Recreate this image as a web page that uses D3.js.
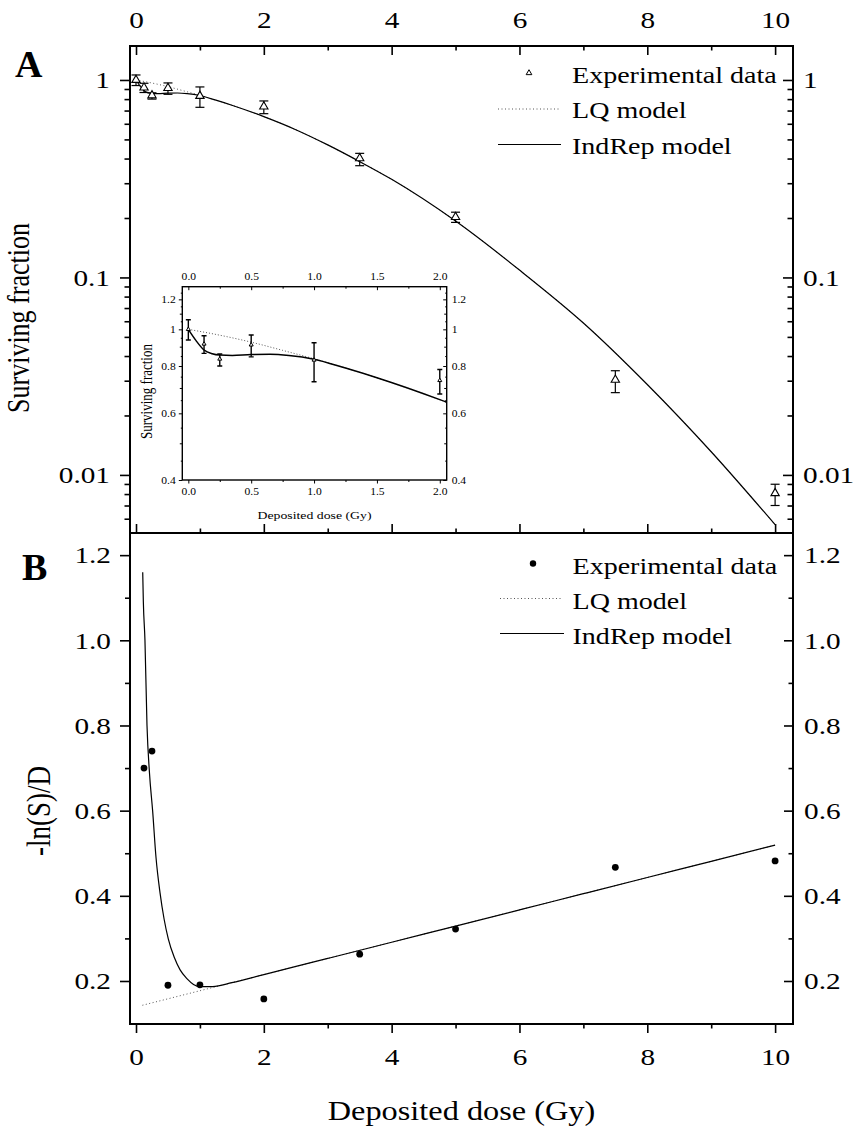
<!DOCTYPE html>
<html>
<head>
<meta charset="utf-8">
<script src="https://cdn.jsdelivr.net/npm/d3@7"></script>
<style type="text/css">
body { margin: 0; background: #fff; }
svg text { font-family: "Liberation Serif", "Times New Roman", serif; fill: #000; }
.frame { fill: none; stroke: #000; stroke-width: 2; }
.axis path { display: none; }
.axis line { stroke: #000; stroke-width: 1.6; }
.inset .axis line { stroke-width: 1; }
.solid { fill: none; stroke: #000; stroke-width: 1.2; }
.dotted { fill: none; stroke: #555; stroke-width: 1; stroke-dasharray: 1,2.5; }
.err { stroke: #000; stroke-width: 1.2; }
</style>
</head>
<body>
<div id="chart"></div>
<script>

// ---- data ----
// panel A: surviving fraction vs deposited dose (Gy)
var doses  = [0, 0.125, 0.25, 0.5, 1, 2, 3.5, 5, 7.5, 10];
var sf     = [1.0, 0.915, 0.835, 0.91, 0.83, 0.733, 0.401, 0.202, 0.0303, 0.00808];
var sfLow  = [0.937, 0.864, 0.80, 0.846, 0.727, 0.675, 0.368, 0.19, 0.0261, 0.0070];
var sfHigh = [1.06, 0.962, 0.861, 0.966, 0.922, 0.783, 0.425, 0.214, 0.0337, 0.00897];

var lqDoseA = [0, 0.25, 0.5, 0.75, 1, 1.5, 2, 2.5, 3, 3.5, 4, 5, 6, 7, 8, 9, 10];
var lqSurvA = [1, 0.965, 0.925, 0.88, 0.836, 0.745, 0.652, 0.56, 0.469, 0.386, 0.314, 0.193, 0.109, 0.0588, 0.0287, 0.0131, 0.0056];

var irDoseA = [0, 0.06, 0.125, 0.19, 0.25, 0.35, 0.5, 0.65, 0.8, 1, 1.25, 1.5, 2, 2.5, 3, 3.5, 4, 5, 6, 7, 8, 9, 10];
var irSurvA = [1, 0.935, 0.882, 0.862, 0.855, 0.853, 0.858, 0.859, 0.853, 0.834, 0.79, 0.745, 0.652, 0.56, 0.469, 0.386, 0.314, 0.193, 0.109, 0.0588, 0.0287, 0.0131, 0.0056];

// panel B: -ln(S)/D
var bDoses = [0.125, 0.25, 0.5, 1, 2, 3.5, 5, 7.5, 10];
var bVals  = [0.70, 0.74, 0.19, 0.191, 0.158, 0.263, 0.322, 0.467, 0.482];

var lqDoseB = [0.1, 2, 4, 6, 8, 10];
var lqValB  = [0.143, 0.215, 0.291, 0.367, 0.443, 0.519];

var irDoseB = [0.105, 0.115, 0.14, 0.172, 0.21, 0.26, 0.313, 0.376, 0.44, 0.505, 0.6, 0.69, 0.8, 0.9, 1.0, 1.2, 1.5, 2, 3, 4, 5, 6, 7, 8, 9, 10];
var irValB  = [1.16, 1.09, 1.0, 0.8, 0.69, 0.6, 0.49, 0.407, 0.345, 0.299, 0.255, 0.226, 0.205, 0.192, 0.187, 0.187, 0.196, 0.215, 0.253, 0.291, 0.329, 0.367, 0.405, 0.443, 0.481, 0.519];

var legendLabels = ["Experimental data", "LQ model", "IndRep model"];

// ---- layout ----
var W = 859, H = 1128;
var SX = 1.22; // the original lettering is a bit wide
var L = 130, R = 793, topA = 46, mid = 533, botB = 1024;

var svg = d3.select("#chart").append("svg")
	.attr("width", W).attr("height", H);

var pts = doses.map(function(d, i) { return {x: d, y: sf[i], lo: sfLow[i], hi: sfHigh[i]}; });
var lqA = lqDoseA.map(function(d, i) { return {x: d, y: lqSurvA[i]}; });
var irA = irDoseA.map(function(d, i) { return {x: d, y: irSurvA[i]}; });
var ptsB = bDoses.map(function(d, i) { return {x: d, y: bVals[i]}; });
var lqB = lqDoseB.map(function(d, i) { return {x: d, y: lqValB[i]}; });
var irB = irDoseB.map(function(d, i) { return {x: d, y: irValB[i]}; });

// scales
var x = d3.scaleLinear().domain([-0.094, 10.28]).range([L, R]);
var yA = d3.scaleLog().domain([0.00508, 1.486]).range([mid, topA]);
var yB = d3.scaleLinear().domain([0.099, 1.252]).range([botB, mid]);

function wideText(sel, size) {
	sel.style("font-size", size + "px")
		.attr("x", function() { return (+d3.select(this).attr("x") || 0) / SX; })
		.attr("transform", "scale(" + SX + ",1)");
}

function label(g, px, py, str, size, anchor, weight) {
	return g.append("text")
		.attr("transform", "translate(" + px + "," + py + ") scale(" + SX + ",1)")
		.attr("text-anchor", anchor || "start")
		.style("font-size", size + "px")
		.style("font-weight", weight || "normal")
		.text(str);
}

function addAxis(g, axis, tx, ty, size) {
	var a = g.append("g").attr("class", "axis")
		.attr("transform", "translate(" + tx + "," + ty + ")")
		.call(axis);
	if (size) a.selectAll("text").call(wideText, size);
	return a;
}

// clip paths
var defs = svg.append("defs");
defs.append("clipPath").attr("id", "clipA").append("rect")
	.attr("x", L).attr("y", topA).attr("width", R - L).attr("height", mid - topA);
defs.append("clipPath").attr("id", "clipB").append("rect")
	.attr("x", L).attr("y", mid).attr("width", R - L).attr("height", botB - mid);

// ================= Panel A =================
var gA = svg.append("g");
var xTicks = x.ticks(10);
var xMaj = xTicks.filter(function(d) { return d % 2 === 0; });
var xMin = xTicks.filter(function(d) { return d % 2 !== 0; });
var yAall = yA.ticks();
var yAmaj = [0.01, 0.1, 1];
var yAmin = yAall.filter(function(d) { return yAmaj.indexOf(d) < 0; });
var fmtA = function(d) { return d === 1 ? "1" : d === 0.1 ? "0.1" : "0.01"; };

addAxis(gA, d3.axisTop(x).tickValues(xMaj).tickSizeInner(-9).tickSizeOuter(0).tickPadding(18).tickFormat(d3.format("d")), 0, topA, 24);
addAxis(gA, d3.axisTop(x).tickValues(xMin).tickSizeInner(-4.5).tickSizeOuter(0).tickFormat(""), 0, topA);
addAxis(gA, d3.axisLeft(yA).tickValues(yAmaj).tickSize(10).tickPadding(10).tickFormat(fmtA), L, 0, 24);
addAxis(gA, d3.axisLeft(yA).tickValues(yAmin).tickSize(5.5).tickFormat(""), L, 0);
addAxis(gA, d3.axisRight(yA).tickValues(yAmaj).tickSizeInner(-10).tickSizeOuter(0).tickPadding(10).tickFormat(fmtA), R, 0, 24);
addAxis(gA, d3.axisRight(yA).tickValues(yAmin).tickSizeInner(-5.5).tickSizeOuter(0).tickFormat(""), R, 0);

var plotA = gA.append("g").attr("clip-path", "url(#clipA)");
plotA.append("path").datum(lqA).attr("class", "dotted")
	.attr("d", d3.line().x(function(d) { return x(d.x); }).y(function(d) { return yA(d.y); }).curve(d3.curveMonotoneX));
plotA.append("path").datum(irA).attr("class", "solid")
	.attr("d", d3.line().x(function(d) { return x(d.x); }).y(function(d) { return yA(d.y); }).curve(d3.curveMonotoneX));

function errorBars(g, data, sx, sy, cap, cls) {
	var e = g.selectAll("g." + cls).data(data).enter().append("g").attr("class", cls);
	e.append("line").attr("class", "err")
		.attr("x1", function(d) { return sx(d.x); }).attr("x2", function(d) { return sx(d.x); })
		.attr("y1", function(d) { return sy(d.lo); }).attr("y2", function(d) { return sy(d.hi); });
	e.append("line").attr("class", "err")
		.attr("x1", function(d) { return sx(d.x) - cap; }).attr("x2", function(d) { return sx(d.x) + cap; })
		.attr("y1", function(d) { return sy(d.lo); }).attr("y2", function(d) { return sy(d.lo); });
	e.append("line").attr("class", "err")
		.attr("x1", function(d) { return sx(d.x) - cap; }).attr("x2", function(d) { return sx(d.x) + cap; })
		.attr("y1", function(d) { return sy(d.hi); }).attr("y2", function(d) { return sy(d.hi); });
	return e;
}

errorBars(plotA, pts, x, yA, 4.5, "ebA");
plotA.selectAll("path.tri").data(pts).enter().append("path").attr("class", "tri")
	.attr("d", d3.symbol().type(d3.symbolTriangle).size(30))
	.attr("transform", function(d) { return "translate(" + x(d.x) + "," + yA(d.y) + ")"; })
	.attr("fill", "#fff").attr("stroke", "#000").attr("stroke-width", 1.1);

// legend A
var legA = gA.append("g");
legA.append("path").attr("d", d3.symbol().type(d3.symbolTriangle).size(14))
	.attr("transform", "translate(529,73)").attr("fill", "#fff").attr("stroke", "#000").attr("stroke-width", 1);
legA.append("line").attr("class", "dotted").attr("x1", 498).attr("x2", 561).attr("y1", 109).attr("y2", 109);
legA.append("line").attr("class", "solid").attr("x1", 498).attr("x2", 561).attr("y1", 144.5).attr("y2", 144.5);
legendLabels.forEach(function(t, i) { label(legA, 572, 83 + i * 35.3, t, 23); });

label(gA, 15, 77, "A", 38, "start", "bold").attr("transform", "translate(15,77)");

// y title A
gA.append("text")
	.attr("transform", "translate(29,318) scale(" + SX + ",1) rotate(-90)")
	.attr("text-anchor", "middle").style("font-size", "26px")
	.text("Surviving fraction");

// ---- inset ----
var xI = d3.scaleLinear().domain([-0.048, 2.055]).range([182.3, 446.7]);
var yI = d3.scaleLog().domain([0.4, 1.296]).range([480, 286.7]);
defs.append("clipPath").attr("id", "clipI").append("rect")
	.attr("x", 182.3).attr("y", 286.7).attr("width", 446.7 - 182.3).attr("height", 480 - 286.7);

var gI = svg.append("g").attr("class", "inset");
gI.append("rect").attr("x", 182.3).attr("y", 286.7).attr("width", 446.7 - 182.3).attr("height", 480 - 286.7)
	.attr("fill", "#fff");

var xImaj = [0, 0.5, 1, 1.5, 2];
var xImin = [0.25, 0.75, 1.25, 1.75];
var yImaj = [0.4, 0.6, 0.8, 1, 1.2];
var yImin = [0.5, 0.7, 0.9, 1.1];
var yItiny = [0.45, 0.55, 0.65, 0.75, 0.85, 0.95, 1.05, 1.15, 1.25];
var fmtI = function(d) { return d === 1 ? "1" : d3.format(".1f")(d); };

addAxis(gI, d3.axisTop(xI).tickValues(xImaj).tickSizeInner(-3.5).tickSizeOuter(0).tickPadding(6.5).tickFormat(d3.format(".1f")), 0, 286.7, 9.5);
addAxis(gI, d3.axisTop(xI).tickValues(xImin).tickSizeInner(-2).tickSizeOuter(0).tickFormat(""), 0, 286.7);
addAxis(gI, d3.axisBottom(xI).tickValues(xImaj).tickSize(3.5).tickPadding(5).tickFormat(d3.format(".1f")), 0, 480, 9.5);
addAxis(gI, d3.axisBottom(xI).tickValues(xImin).tickSize(2).tickFormat(""), 0, 480);
addAxis(gI, d3.axisLeft(yI).tickValues(yImaj).tickSize(3.5).tickPadding(3).tickFormat(fmtI), 182.3, 0, 9.5);
addAxis(gI, d3.axisLeft(yI).tickValues(yImin).tickSize(2.5).tickFormat(""), 182.3, 0);
addAxis(gI, d3.axisLeft(yI).tickValues(yItiny).tickSize(1.5).tickFormat(""), 182.3, 0);
addAxis(gI, d3.axisRight(yI).tickValues(yImaj).tickSizeInner(-3.5).tickSizeOuter(0).tickPadding(5).tickFormat(fmtI), 446.7, 0, 9.5);
addAxis(gI, d3.axisRight(yI).tickValues(yImin).tickSizeInner(-2.5).tickSizeOuter(0).tickFormat(""), 446.7, 0);
addAxis(gI, d3.axisRight(yI).tickValues(yItiny).tickSizeInner(-1.5).tickSizeOuter(0).tickFormat(""), 446.7, 0);

var plotI = gI.append("g").attr("clip-path", "url(#clipI)");
var lineI = d3.line().x(function(d) { return xI(d.x); }).y(function(d) { return yI(d.y); }).curve(d3.curveMonotoneX);
plotI.append("path").datum(lqA.filter(function(d) { return d.x <= 2.5; })).attr("class", "dotted")
	.style("stroke-dasharray", "1,2").attr("d", lineI);
plotI.append("path").datum(irA.filter(function(d) { return d.x <= 2.5; })).attr("class", "solid")
	.style("stroke-width", 1.5).attr("d", lineI);
var ptsI = pts.filter(function(d) { return d.x <= 2; });
errorBars(plotI, ptsI, xI, yI, 2.5, "ebI").selectAll("line").style("stroke-width", 1.4);
plotI.selectAll("path.triI").data(ptsI).enter().append("path").attr("class", "triI")
	.attr("d", d3.symbol().type(d3.symbolTriangle).size(7))
	.attr("transform", function(d) { return "translate(" + xI(d.x) + "," + yI(d.y) + ")"; })
	.attr("fill", "#fff").attr("stroke", "#000").attr("stroke-width", 1);

gI.append("rect").attr("x", 182.3).attr("y", 286.7).attr("width", 446.7 - 182.3).attr("height", 480 - 286.7)
	.attr("fill", "none").attr("stroke", "#000").attr("stroke-width", 1.4);
label(gI, 314.5, 518.5, "Deposited dose (Gy)", 11.3, "middle");
gI.append("text")
	.attr("transform", "translate(152,391.5) scale(" + SX + ",1) rotate(-90)")
	.attr("text-anchor", "middle").style("font-size", "13px")
	.text("Surviving fraction");

// ================= Panel B =================
var gB = svg.append("g");
var yBall = yB.ticks(12);
var yBmaj = yBall.filter(function(d) { return Math.round(d * 10) % 2 === 0; });
var yBmin = yBall.filter(function(d) { return Math.round(d * 10) % 2 !== 0 && d > 0.15; });

addAxis(gB, d3.axisBottom(x).tickValues(xMaj).tickSizeInner(-9).tickSizeOuter(0).tickFormat(""), 0, mid);
addAxis(gB, d3.axisBottom(x).tickValues(xMin).tickSizeInner(-4.5).tickSizeOuter(0).tickFormat(""), 0, mid);
addAxis(gB, d3.axisBottom(x).tickValues(xMaj).tickSize(9).tickPadding(15).tickFormat(d3.format("d")), 0, botB, 24);
addAxis(gB, d3.axisBottom(x).tickValues(xMin).tickSize(4.5).tickFormat(""), 0, botB);
addAxis(gB, d3.axisLeft(yB).tickValues(yBmaj).tickSize(10).tickPadding(9).tickFormat(d3.format(".1f")), L, 0, 24);
addAxis(gB, d3.axisLeft(yB).tickValues(yBmin).tickSize(5).tickFormat(""), L, 0);
addAxis(gB, d3.axisRight(yB).tickValues(yBmaj).tickSizeInner(-9).tickSizeOuter(0).tickPadding(11).tickFormat(d3.format(".1f")), R, 0, 24);
addAxis(gB, d3.axisRight(yB).tickValues(yBmin).tickSizeInner(-4.5).tickSizeOuter(0).tickFormat(""), R, 0);

var plotB = gB.append("g").attr("clip-path", "url(#clipB)");
var lineB = d3.line().x(function(d) { return x(d.x); }).y(function(d) { return yB(d.y); }).curve(d3.curveMonotoneX);
plotB.append("path").datum(lqB).attr("class", "dotted").attr("d", lineB);
plotB.append("path").datum(irB).attr("class", "solid").attr("d", lineB);
plotB.selectAll("circle").data(ptsB).enter().append("circle")
	.attr("cx", function(d) { return x(d.x); }).attr("cy", function(d) { return yB(d.y); })
	.attr("r", 3.4).attr("fill", "#000");

// legend B
var legB = gB.append("g");
legB.append("circle").attr("cx", 533).attr("cy", 563.5).attr("r", 3.2).attr("fill", "#000");
legB.append("line").attr("class", "dotted").attr("x1", 500).attr("x2", 562).attr("y1", 598.5).attr("y2", 598.5);
legB.append("line").attr("class", "solid").attr("x1", 500).attr("x2", 564).attr("y1", 633.5).attr("y2", 633.5);
legendLabels.forEach(function(t, i) { label(legB, 572.5, 573.5 + i * 35, t, 23); });

label(gB, 22, 580, "B", 38, "start", "bold").attr("transform", "translate(22,580)");

gB.append("text")
	.attr("transform", "translate(50,811) scale(" + SX + ",1) rotate(-90)")
	.attr("text-anchor", "middle").style("font-size", "27px")
	.text("-ln(S)/D");

label(gB, 461.5, 1120, "Deposited dose (Gy)", 26.5, "middle");

// frames on top
svg.append("rect").attr("class", "frame").attr("x", L).attr("y", topA).attr("width", R - L).attr("height", mid - topA);
svg.append("rect").attr("class", "frame").attr("x", L).attr("y", mid).attr("width", R - L).attr("height", botB - mid);

</script>
</body>
</html>
